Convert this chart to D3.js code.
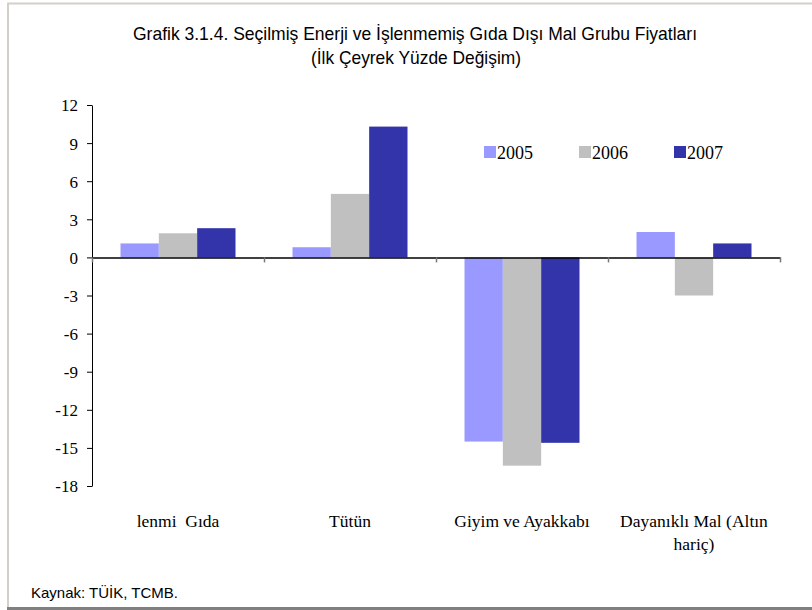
<!DOCTYPE html>
<html>
<head>
<meta charset="utf-8">
<script src="https://cdn.jsdelivr.net/npm/d3@7"></script>
<style>
  body { margin: 0; background: #fff; }
  svg text { white-space: pre; }
</style>
</head>
<body>
<div class="chart"></div>
<script>
  // data
  var categories = ["lenmi  Gıda", "Tütün", "Giyim ve Ayakkabı", "Dayanıklı Mal (Altın|hariç)"];
  var years = ["2005", "2006", "2007"];
  var values2005 = [1.1, 0.8, -14.5, 2.0];
  var values2006 = [1.9, 5.0, -16.4, -3.0];
  var values2007 = [2.3, 10.3, -14.6, 1.1];
  var yTicks = [12, 9, 6, 3, 0, -3, -6, -9, -12, -15, -18];
  var colors = ["#9999FF", "#C0C0C0", "#3333AA"];

  var seriesValues = [values2005, values2006, values2007];

  var width = 812, height = 610;
  var plot = {left: 92, right: 780, top: 105, bottom: 486};
  var serif = "'Liberation Serif', 'Times New Roman', serif";
  var narrow = "'Liberation Sans Narrow', 'Arial Narrow', 'Liberation Sans', Arial, sans-serif";

  var svg = d3.select(".chart")
      .append("svg")
      .attr("width", width)
      .attr("height", height);

  // frame
  svg.append("line").attr("x1", 7).attr("x2", 812).attr("y1", 3.5).attr("y2", 3.5)
      .attr("stroke", "#d4d0c8").attr("stroke-width", 2);
  svg.append("line").attr("x1", 8).attr("x2", 8).attr("y1", 3).attr("y2", 608)
      .attr("stroke", "#d4d0c8").attr("stroke-width", 2);
  svg.append("line").attr("x1", 7).attr("x2", 812).attr("y1", 608.5).attr("y2", 608.5)
      .attr("stroke", "#808080").attr("stroke-width", 3);

  // title
  var title = svg.append("text")
      .attr("text-anchor", "middle")
      .attr("font-family", narrow)
      .attr("font-size", "18.5px")
      .attr("fill", "#000");
  title.append("tspan").attr("x", 415).attr("y", 40).attr("textLength", 564).attr("lengthAdjust", "spacingAndGlyphs")
      .text("Grafik 3.1.4. Seçilmiş Enerji ve İşlenmemiş Gıda Dışı Mal Grubu Fiyatları");
  title.append("tspan").attr("x", 416).attr("y", 64).attr("textLength", 210).attr("lengthAdjust", "spacingAndGlyphs")
      .text("(İlk Çeyrek Yüzde Değişim)");

  var xScale = d3.scaleBand()
      .domain(categories)
      .range([plot.left, plot.right]);

  var x1 = d3.scaleBand()
      .domain(years)
      .range([28.5, xScale.bandwidth() - 28.5]);

  var yScale = d3.scaleLinear()
      .domain([-18, 12])
      .range([plot.bottom, plot.top]);

  // bars
  var rows = [];
  categories.forEach(function (c, i) {
    years.forEach(function (yr, j) {
      rows.push({cat: c, year: yr, value: seriesValues[j][i], color: colors[j]});
    });
  });

  svg.append("g").selectAll("rect")
      .data(rows)
      .enter().append("rect")
      .attr("x", function (d) { return xScale(d.cat) + x1(d.year); })
      .attr("width", x1.bandwidth())
      .attr("y", function (d) { return yScale(Math.max(0, d.value)); })
      .attr("height", function (d) { return Math.abs(yScale(d.value) - yScale(0)); })
      .attr("fill", function (d) { return d.color; });

  // y axis
  var yAxis = d3.axisLeft(yScale)
      .tickValues(yTicks)
      .tickSize(5)
      .tickSizeOuter(0)
      .tickFormat(function (d) { return d; });

  var gy = svg.append("g")
      .attr("transform", "translate(" + plot.left + ",0)")
      .call(yAxis);
  gy.select(".domain").attr("stroke", "#000");
  gy.selectAll(".tick line").attr("stroke", "#000");
  gy.selectAll("text")
      .attr("font-family", serif)
      .attr("font-size", "17px")
      .attr("fill", "#000")
      .attr("x", -14)
      .attr("dy", "0.35em");

  // x axis at zero, ticks on category boundaries
  var boundary = d3.scaleLinear().domain([0, categories.length]).range([plot.left, plot.right]);
  var xAxis = d3.axisBottom(boundary)
      .ticks(categories.length)
      .tickSize(5)
      .tickSizeOuter(0)
      .tickFormat("");
  var gx = svg.append("g")
      .attr("transform", "translate(0," + yScale(0) + ")")
      .call(xAxis);
  gx.select(".domain").attr("stroke", "#000").attr("stroke-width", 1.5);
  gx.selectAll(".tick line").attr("stroke", "#777").attr("stroke-width", 1.5);

  // category labels
  var catLabels = svg.append("g")
      .attr("font-family", serif)
      .attr("font-size", "17.5px")
      .attr("fill", "#000")
      .attr("text-anchor", "middle");
  categories.forEach(function (c) {
    var lines = c.split("|");
    var t = catLabels.append("text");
    lines.forEach(function (ln, k) {
      t.append("tspan")
          .attr("x", xScale(c) + xScale.bandwidth() / 2)
          .attr("y", 527 + k * 23)
          .text(ln);
    });
  });

  // legend
  var legendX = d3.scalePoint().domain(years).range([484, 674]);
  var legend = svg.append("g").selectAll("g")
      .data(years)
      .enter().append("g")
      .attr("transform", function (d) { return "translate(" + legendX(d) + ",146)"; });
  legend.append("rect")
      .attr("width", 12)
      .attr("height", 12)
      .attr("fill", function (d, i) { return colors[i]; });
  legend.append("text")
      .attr("x", 13)
      .attr("y", 12.5)
      .attr("font-family", serif)
      .attr("font-size", "18px")
      .attr("fill", "#000")
      .text(function (d) { return d; });

  // source
  svg.append("text")
      .attr("x", 31)
      .attr("y", 598)
      .attr("font-family", narrow)
      .attr("font-size", "15px")
      .attr("textLength", 147)
      .attr("lengthAdjust", "spacingAndGlyphs")
      .attr("fill", "#000")
      .text("Kaynak: TÜİK, TCMB.");
</script>
</body>
</html>
